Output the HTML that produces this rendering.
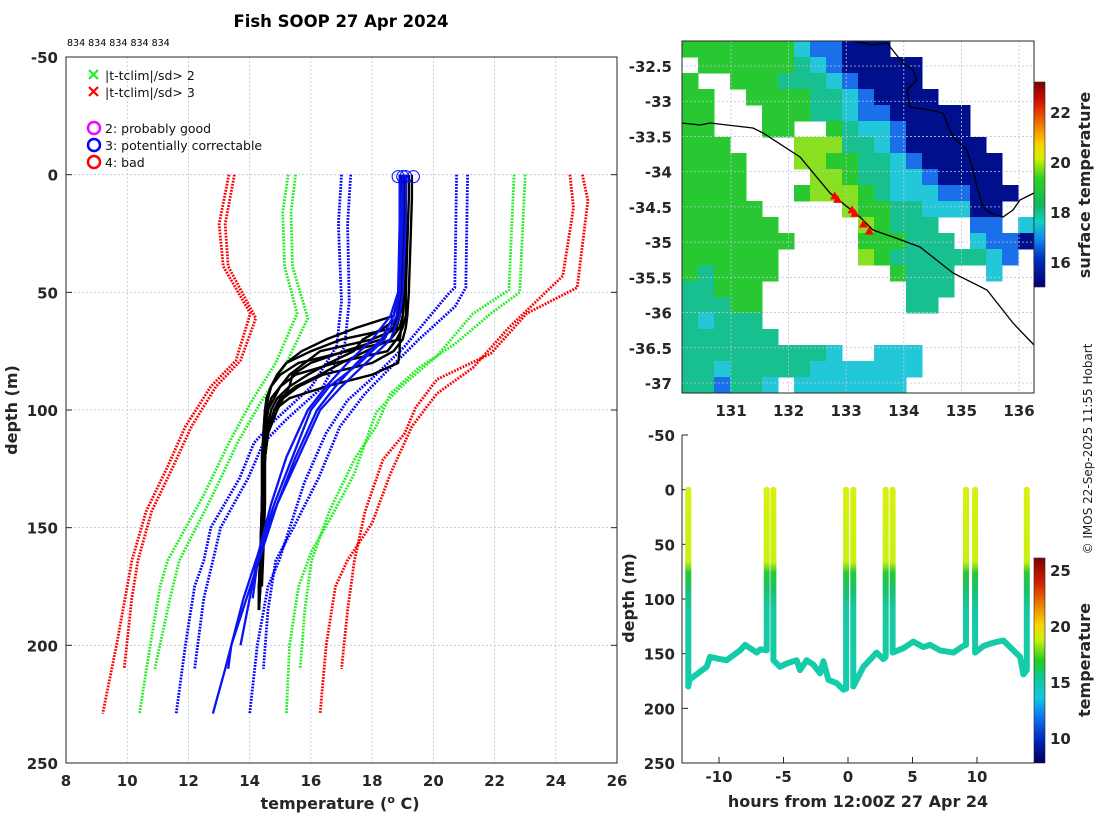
<!DOCTYPE html>
<html><head><meta charset="utf-8">
<style>
html,body{margin:0;padding:0;background:#fff;}
svg{display:block;font-family:"DejaVu Sans","Liberation Sans",sans-serif;}
.tk{font-size:15px;font-weight:bold;fill:#262626;}
.lb{font-size:16px;font-weight:bold;fill:#262626;}
</style></head>
<body>
<svg id="root" width="1100" height="820" viewBox="0 0 1100 820" xmlns="http://www.w3.org/2000/svg">
<defs>
<linearGradient id="cbMap" x1="0" y1="0" x2="0" y2="1">
<stop offset="0" stop-color="#7a0000"/><stop offset="0.09" stop-color="#d01000"/><stop offset="0.2" stop-color="#f07000"/>
<stop offset="0.3" stop-color="#f8d000"/><stop offset="0.37" stop-color="#d8f000"/><stop offset="0.47" stop-color="#30d020"/>
<stop offset="0.6" stop-color="#10b860"/><stop offset="0.68" stop-color="#10d0c0"/><stop offset="0.76" stop-color="#1090f0"/>
<stop offset="0.86" stop-color="#0030c0"/><stop offset="1" stop-color="#000070"/>
</linearGradient>
<linearGradient id="cbTS" x1="0" y1="0" x2="0" y2="1">
<stop offset="0" stop-color="#800000"/><stop offset="0.12" stop-color="#d02000"/><stop offset="0.25" stop-color="#f09000"/>
<stop offset="0.33" stop-color="#f8d800"/><stop offset="0.4" stop-color="#c8f010"/><stop offset="0.5" stop-color="#20d020"/>
<stop offset="0.58" stop-color="#10c890"/><stop offset="0.68" stop-color="#10c8e0"/><stop offset="0.78" stop-color="#1070f0"/>
<stop offset="0.9" stop-color="#0020b0"/><stop offset="1" stop-color="#000060"/>
</linearGradient>
</defs>

<text x="341" y="27" text-anchor="middle" style="font-size:16.5px;font-weight:bold;fill:#000">Fish SOOP 27 Apr 2024</text>
<text x="67" y="46" style="font-size:9.5px;fill:#000">834 834 834 834 834</text>

<g id="left"></g>
<g id="map"></g>
<g id="ts"></g>

<text transform="translate(1092,449) rotate(-90)" text-anchor="middle" style="font-size:12px;fill:#222">© IMOS 22-Sep-2025 11:55 Hobart</text>
</svg>
<script>
// ---------- profile plot data ----------
const tempTicks = [8,10,12,14,16,18,20,22,24,26];
const depthTicks = [-50,0,50,100,150,200,250];
const redL1T = [13.32,13.0,13.14,14.02,13.55,12.73,11.9,11.32,10.62,10.15,10.0,9.65,9.2];
const redL1D = [0,21,39,59,79,90,107,124,143,164,175,200,229];
const redL2T = [13.5,13.2,13.3,14.2,13.7,12.9,12.1,11.5,10.8,10.35,10.15,9.9];
const redL2D = [0,21,39,61,79,90,107,124,143,164,180,210];
const grnL1T = [15.26,15.08,15.14,15.55,14.85,14.03,13.32,12.5,11.32,11.07,10.75,10.4];
const grnL1D = [0,16,39,59,80,97,114,136,164,175,200,229];
const grnL2T = [15.5,15.35,15.4,15.9,15.2,14.35,13.6,12.8,11.7,11.4,10.9];
const grnL2D = [0,16,39,61,80,97,114,136,164,180,210];
const bluL1T = [17.0,16.9,17.0,16.84,16.02,14.85,14.14,13.67,12.73,12.5,12.2,11.9,11.6];
const bluL1D = [0,21,54,73,90,104,114,129,150,164,175,200,229];
const bluL2T = [17.3,17.2,17.25,17.1,16.4,15.2,14.45,13.95,13.05,12.8,12.5,12.2];
const bluL2D = [0,21,54,73,90,104,114,129,150,164,180,210];
const bluR1T = [20.76,20.7,20.47,19.06,18.13,17.19,16.49,15.78,14.96,14.6,14.25,14.0];
const bluR1D = [0,48,51,73,85,96,110,131,164,175,200,229];
const bluR2T = [21.12,21.06,20.71,19.53,18.6,17.77,16.95,16.25,15.43,14.85,14.6,14.45];
const bluR2D = [0,48,56,70,82,93,107,129,150,164,185,210];
const grnR1T = [22.64,22.47,21.3,20.12,18.95,18.13,17.42,16.6,16.02,15.6,15.3,15.2];
const grnR1D = [0,49,59,77,90,101,127,147,160,175,200,229];
const grnR2T = [23.0,22.82,21.88,20.7,19.53,18.6,18.13,17.42,16.6,16.02,15.8,15.65];
const grnR2D = [0,50,59,72,82,93,107,121,143,164,185,210];
const redR1T = [24.46,24.58,24.23,22.47,21.3,20.12,19.3,18.6,18.0,17.19,16.8,16.5,16.3];
const redR1D = [0,14,43,65,82,93,107,127,148,164,175,200,229];
const redR2T = [24.87,25.05,24.7,23.05,21.88,20.12,19.42,19.06,18.36,17.77,17.42,17.2,17.0];
const redR2D = [0,11,48,59,76,87,99,110,121,143,164,185,210];
const blackDepths = [0,10,30,50,60,65,70,75,80,85,90,95,100,110,120,140,160,175,185];
const black1 = [19.0,19.0,18.95,18.95,18.9,18.8,17.0,16.0,15.2,14.9,14.7,14.6,14.5,14.45,14.4,14.4,14.35,14.3,14.3];
const black2 = [19.1,19.1,19.05,19.0,19.0,18.95,18.9,17.2,15.6,15.0,14.7,14.55,14.5,14.45,14.45,14.4,14.4,14.35,null];
const black3 = [18.9,18.9,18.9,18.9,18.7,17.5,16.5,15.7,15.2,14.9,14.7,14.6,14.55,14.5,14.45,14.4,14.4,14.3,14.3];
const black4 = [19.2,19.2,19.15,19.1,19.1,19.0,18.8,18.5,16.8,15.5,15.0,14.8,14.6,14.5,14.45,14.4,14.35,14.3,null];
const black5 = [19.0,19.0,19.0,19.0,19.0,18.9,18.0,16.3,15.8,15.3,15.0,14.7,14.6,14.5,14.5,14.45,14.4,14.35,14.3];
const black6 = [19.3,19.3,19.25,19.2,19.15,19.1,19.0,18.7,18.0,16.4,15.6,15.1,14.9,14.6,14.5,14.45,14.4,null,null];
const black7 = [18.95,18.95,18.9,18.9,18.85,18.7,18.3,17.1,16.0,15.4,15.3,15.1,14.8,14.6,14.5,14.4,14.35,14.3,14.3];
const black8 = [19.1,19.1,19.1,19.05,19.0,18.9,18.6,17.8,17.0,16.3,15.5,15.0,14.8,14.6,14.5,14.5,14.45,14.4,null];
const black9 = [19.0,19.0,19.0,18.95,18.9,18.4,17.7,17.4,16.6,15.9,15.3,14.9,14.7,14.55,14.5,14.45,14.4,14.35,14.3];
const black10 = [19.05,19.05,19.0,19.0,19.0,18.95,18.9,18.9,18.85,18.0,16.5,15.3,14.8,14.6,14.5,14.45,14.4,14.35,14.3];
const blueDepths = [0,20,50,60,70,80,90,100,120,140,160,180,200,210,229];
const blue1 = [19.0,18.95,18.9,18.7,18.3,17.5,16.8,16.2,15.5,14.9,14.3,13.8,13.4,13.3,null];
const blue2 = [19.1,19.1,19.0,18.9,18.6,17.8,17.0,16.3,15.6,14.9,14.4,13.9,13.4,13.2,12.8];
const blue3 = [18.9,18.9,18.85,18.6,18.0,17.2,16.5,15.9,15.2,14.7,14.3,14.0,13.7,null,null];
const blue4 = [19.0,19.0,18.9,18.8,18.4,17.6,16.6,16.0,15.4,14.8,14.3,14.1,null,null,null];
const flagTemps = [18.85,19.0,19.1,19.35];

// ---------- map data ----------
const lonTicks = [131,132,133,134,135,136];
const latTicks = [-32.5,-33,-33.5,-34,-34.5,-35,-35.5,-36,-36.5,-37];
const sstBarTicks = [22,20,18,16];
const sstGrid = [
"GGGGGGGCBBNNNWWWWWWWWW",
"WGGGGGGTCBNNNNNWWWWWWW",
"GWWGGGTTTCBNNNNWWWWWWW",
"GGWWGGGGTTCBNNNNWWWWWW",
"GGWWWGGGTTCBBNNNNNWWWW",
"GGWWWGGWWGTCCBNNNNWWWW",
"GGGWWWWgggTTCBNNNNNWWW",
"GGGGWWWggGGTTCBNNNNNWW",
"GGGGWWWWggGTTCCBNNNNWW",
"GGGGWWWGgggGTCCCBBNNNW",
"GGGGGWWWWWgGGTTCCCNNWW",
"GGGGGGWWWWWgGTTTWWBBWC",
"GGGGGGGWWWWGGGTTTWCBBN",
"GGGGGGWWWWWgGTTTTTTCBW",
"GTGGGGWWWWWWWGTTTWWCWW",
"TTGGGWWWWWWWWWTTTWWWWW",
"TTTGGWWWWWWWWWTTWWWWWW",
"TCTTTWWWWWWWWWWWWWWWWW",
"TTTTTTWWWWWWWWWWWWWWWW",
"TTTTTTTTTCWWCCCWWWWWWW",
"TTCTTTTTCCCCCCCWWWWWWW",
"TTBTTCWCCCCCCCWWWWWWWW"];
const shipLons = [132.8,132.85,133.1,133.15,133.3,133.4];
const shipLats = [-34.35,-34.4,-34.55,-34.6,-34.75,-34.85];

// ---------- timeseries data ----------
const hourTicks = [-10,-5,0,5,10];
const tsDepthTicks = [-50,0,50,100,150,200,250];
const tsBarTicks = [25,20,15,10];
const tsHours = [-12.38,-12.38,-12.3,-10.95,-10.7,-9.93,-9.4,-8.37,-7.98,-7.07,-6.8,-6.3,-6.3,-5.78,-5.78,-5.27,-4.75,-3.98,-3.72,-3.2,-2.69,-2.17,-1.91,-1.52,-0.88,-0.36,-0.15,-0.15,0.41,0.41,1.19,2.22,2.74,2.92,2.92,3.46,3.46,4.29,5.06,5.84,6.36,7.13,8.17,8.94,9.15,9.15,9.85,9.85,10.5,11.27,12.05,12.82,13.34,13.6,13.86,13.86];
const tsDepths = [0,180,174,162,153,155,156,147,142,149,146,147,0,0,156,162,159,156,165,156,160,168,157,174,177,183,182,0,0,180,162,149,155,153,0,0,149,145,139,144,142,147,149,143,142,0,0,149,143,140,138,147,153,169,165,0];

const NS='http://www.w3.org/2000/svg';
function mk(parent,tag,attrs){const e=document.createElementNS(NS,tag);for(const k in attrs)e.setAttribute(k,attrs[k]);parent.appendChild(e);return e;}

// ===== left profile plot =====
const L=document.getElementById('left');
const xT=t=>66+(t-8)*(551/18);
const yD=d=>57+(d+50)*(706/300);
tempTicks.forEach(t=>{const g=mk(L,'line',{x1:xT(t),x2:xT(t),y1:57,y2:763,stroke:'#b8c4e0','stroke-width':0.8,'stroke-dasharray':'2 2'});

const tk=mk(L,'text',{x:xT(t),y:786,'text-anchor':'middle',class:'tk'});tk.textContent=t;
});
depthTicks.forEach(d=>{const g=mk(L,'line',{x1:66,x2:617,y1:yD(d),y2:yD(d),stroke:'#b8c4e0','stroke-width':0.8,'stroke-dasharray':'2 2'});

const tk=mk(L,'text',{x:58,y:yD(d)+6,'text-anchor':'end',class:'tk'});tk.textContent=d;

[[66,72],[611,617]].forEach(p=>{const l=mk(L,'line',{x1:p[0],x2:p[1],y1:yD(d),y2:yD(d),stroke:'#262626'});});});
function poly(parent,T,D,color,dash,w,name){
  let pts=[];for(let i=0;i<T.length;i++){if(T[i]==null)continue;pts.push(xT(T[i]).toFixed(1)+','+yD(D[i]).toFixed(1));}
  const p=mk(parent,'polyline',{points:pts.join(' '),fill:'none',stroke:color,'stroke-width':w,'stroke-linejoin':'round'});
  if(dash)p.setAttribute('stroke-dasharray',dash);
  return p;}
const climSets=[[redL1T,redL1D,'#ff0000','clim-3sd-low'],[redL2T,redL2D,'#ff0000','clim-3sd-low'],
[grnL1T,grnL1D,'#22ee22','clim-2sd-low'],[grnL2T,grnL2D,'#22ee22','clim-2sd-low'],
[bluL1T,bluL1D,'#0000ff','clim-1sd-low'],[bluL2T,bluL2D,'#0000ff','clim-1sd-low'],
[bluR1T,bluR1D,'#0000ff','clim-1sd-high'],[bluR2T,bluR2D,'#0000ff','clim-1sd-high'],
[grnR1T,grnR1D,'#22ee22','clim-2sd-high'],[grnR2T,grnR2D,'#22ee22','clim-2sd-high'],
[redR1T,redR1D,'#ff0000','clim-3sd-high'],[redR2T,redR2D,'#ff0000','clim-3sd-high']];
climSets.forEach(s=>poly(L,s[0],s[1],s[2],'1.8 1.3',2.8,s[3]));
[black1,black2,black3,black4,black5,black6,black7,black8,black9,black10].forEach(b=>poly(L,b,blackDepths,'#000',null,2.4,'good-profile'));
[blue1,blue2,blue3,blue4].forEach(b=>poly(L,b,blueDepths,'#0a14f0',null,2.3,'flagged-profile'));
flagTemps.forEach(t=>{const c=mk(L,'circle',{cx:xT(t),cy:yD(0)+2,r:6,fill:'none',stroke:'#0000ff','stroke-width':1});
});
const fr=mk(L,'rect',{x:66,y:57,width:551,height:706,fill:'none',stroke:'#262626','stroke-width':1});

const xl=mk(L,'text',{x:340,y:809,'text-anchor':'middle',class:'lb'});xl.innerHTML='temperature (<tspan dy="-6" style="font-size:11px">o</tspan><tspan dy="6"> C)</tspan>';

const yl=mk(L,'text',{transform:'translate(17,410) rotate(-90)','text-anchor':'middle',class:'lb'});yl.textContent='depth (m)';

const legItems=[['x','#22ee22','|t-tclim|/sd> 2',75],['x','#ff0000','|t-tclim|/sd> 3',92],['o','#ff00ff','2: probably good',128],['o','#0000ff','3: potentially correctable',145],['o','#ff0000','4: bad',162]];
legItems.forEach(it=>{const g=mk(L,'g',{});
 if(it[0]=='x'){mk(g,'path',{d:`M89 ${it[3]-5} l9 9 M98 ${it[3]-5} l-9 9`,stroke:it[1],'stroke-width':2.2});}
 else mk(g,'circle',{cx:94,cy:it[3],r:6,fill:'none',stroke:it[1],'stroke-width':2.5});
 const t=mk(g,'text',{x:105,y:it[3]+5,style:'font-size:12.5px;fill:#111'});t.textContent=it[2];});

// ===== map =====
const M=document.getElementById('map');
const mx=l=>731+(l-131)*57.6;
const my=la=>66+(-32.5-la)*70.44;
const pal={G:'#28c832',g:'#88e020',T:'#18c090',C:'#22c8d8',B:'#1a70e8',N:'#00108c'};
sstGrid.forEach((row,r)=>{for(let c=0;c<row.length;c++){const k=row[c];if(k==='W')continue;
 const cell=mk(M,'rect',{x:682+c*16,y:41+r*16,width:16.5,height:16.5,fill:pal[k]});
 }});
lonTicks.forEach(l=>{const g=mk(M,'line',{x1:mx(l),x2:mx(l),y1:41,y2:393,stroke:'#b8c4e0','stroke-width':0.8,'stroke-dasharray':'2 2'});
 
 const t=mk(M,'text',{x:mx(l),y:416,'text-anchor':'middle',class:'tk'});t.textContent=l;
 });
latTicks.forEach(la=>{const g=mk(M,'line',{x1:682,x2:1034,y1:my(la),y2:my(la),stroke:'#b8c4e0','stroke-width':0.8,'stroke-dasharray':'2 2'});
 
 const t=mk(M,'text',{x:672,y:my(la)+6,'text-anchor':'end',class:'tk'});t.textContent=la;
 });
const coast=mk(M,'path',{d:'M853 41 L873 45 L887 43 L903 63 L913 70 L917 80 L907 90 L910 107 L930 110 L943 113 L953 137 L967 150 L973 170 L977 187 L983 207 L990 213 L1003 217 L1013 210 L1020 200 L1034 193',fill:'none',stroke:'#000','stroke-width':1.3});

const shelf=mk(M,'path',{d:'M682 123 L700 125 L710 123 L753 128 L763 133 L800 157 L830 193 L860 217 L873 230 L893 237 L920 247 L953 273 L987 290 L1013 323 L1034 345',fill:'none',stroke:'#000','stroke-width':1.3});

shipLons.forEach((l,i)=>{const tr=mk(M,'path',{d:`M${mx(l)} ${my(shipLats[i])-5} l4.5 8 h-9 z`,fill:'#ff0000'});
 });
const mf=mk(M,'rect',{x:682,y:41,width:352,height:352,fill:'none',stroke:'#262626'});

const cb=mk(M,'rect',{x:1034,y:82,width:11,height:205,fill:'url(#cbMap)',stroke:'#262626','stroke-width':0.6});

const cbY=v=>82+(23.2-v)*25;
sstBarTicks.forEach(v=>{const t=mk(M,'text',{x:1050,y:cbY(v)+6,class:'tk'});t.textContent=v;
 });
const st=mk(M,'text',{transform:'translate(1090,185) rotate(-90)','text-anchor':'middle',class:'lb'});st.textContent='surface temperature';


// ===== timeseries =====
const S=document.getElementById('ts');
const hx=h=>848+h*12.9;
const dy=d=>435+(d+50)*(328/300);
tsDepthTicks.forEach(d=>{const t=mk(S,'text',{x:675,y:dy(d)+6,'text-anchor':'end',class:'tk'});t.textContent=d;
 
 const l=mk(S,'line',{x1:682,x2:688,y1:dy(d),y2:dy(d),stroke:'#262626'});});
hourTicks.forEach(h=>{const t=mk(S,'text',{x:hx(h),y:782,'text-anchor':'middle',class:'tk'});t.textContent=h;
 
 const l=mk(S,'line',{x1:hx(h),x2:hx(h),y1:757,y2:763,stroke:'#262626'});});
const lg=mk(document.querySelector('defs'),'linearGradient',{id:'depthGrad',gradientUnits:'userSpaceOnUse',x1:0,y1:dy(0),x2:0,y2:dy(200)});

[[0,'#d8f010'],[0.33,'#c8f010'],[0.38,'#28c838'],[0.46,'#18c070'],[0.55,'#18c8a0'],[1,'#10d0b0']].forEach(s=>mk(lg,'stop',{offset:s[0],'stop-color':s[1]}));
// split trace wherever two consecutive points are both at the surface (separate casts)
let segs=[[]];
for(let i=0;i<tsHours.length;i++){
  if(i>0 && tsDepths[i]===0 && tsDepths[i-1]===0){segs.push([]);}
  segs[segs.length-1].push(hx(tsHours[i]).toFixed(1)+','+dy(tsDepths[i]).toFixed(1));
}
segs.forEach(s=>{if(s.length<2)return;
 const tr=mk(S,'polyline',{points:s.join(' '),fill:'none',stroke:'url(#depthGrad)','stroke-width':6,'stroke-linejoin':'round','stroke-linecap':'round'});
 });
const ax=mk(S,'path',{d:'M682 435 V763 H1034',fill:'none',stroke:'#262626'});

const cb2=mk(S,'rect',{x:1034,y:558,width:11,height:205,fill:'url(#cbTS)',stroke:'#262626','stroke-width':0.6});

const cbY2=v=>570+(25-v)*11.2;
tsBarTicks.forEach(v=>{const t=mk(S,'text',{x:1050,y:cbY2(v)+6,class:'tk'});t.textContent=v;
 });
const tt=mk(S,'text',{transform:'translate(1090,660) rotate(-90)','text-anchor':'middle',class:'lb'});tt.textContent='temperature';

const hl=mk(S,'text',{x:858,y:807,'text-anchor':'middle',class:'lb'});hl.textContent='hours from 12:00Z 27 Apr 24';

const dl=mk(S,'text',{transform:'translate(634,598) rotate(-90)','text-anchor':'middle',class:'lb'});dl.textContent='depth (m)';

</script>
</body></html>
